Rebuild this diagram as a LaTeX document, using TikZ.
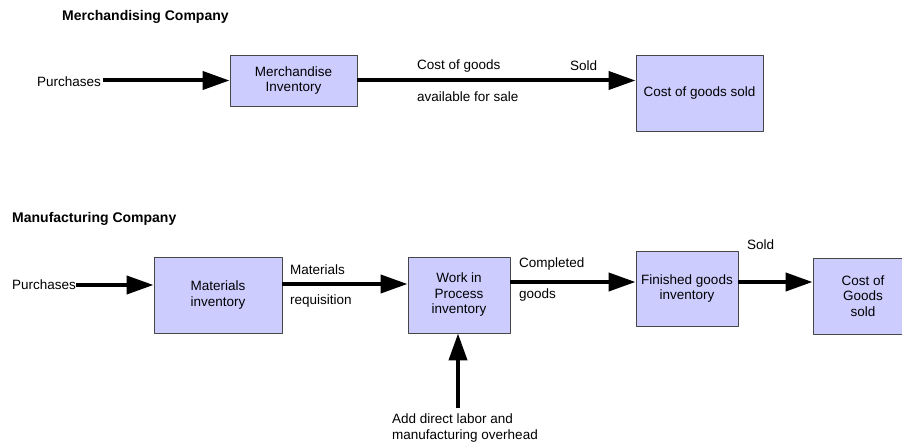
\documentclass[tikz,border=0pt]{standalone}
\usepackage{fontspec}
\setmainfont{Liberation Sans}
\usetikzlibrary{arrows.meta}
\definecolor{boxfill}{RGB}{204,204,255}
\definecolor{boxline}{RGB}{70,70,70}
\begin{document}
\begin{tikzpicture}[x=1pt,y=-1pt,line join=round,font=\fontsize{13.5}{15.5}\selectfont,
	box/.style={draw=boxline,line width=0.9pt,fill=boxfill,align=center,inner sep=0pt},
	flow/.style={line width=4pt,-{Triangle[length=27pt,width=18pt]}},
	lbl/.style={anchor=west,inner sep=0pt},
	title/.style={anchor=west,inner sep=0pt,font=\fontsize{14}{16}\selectfont\bfseries}]
	\clip (0,0) rectangle (902,446);
	% merchandising company
	\node[title] (mtitle) at (62,17) {Merchandising Company};
	\node[lbl] (mpurch) at (37,82) {Purchases};
	\node[box,minimum width=127pt,minimum height=51pt] (minv) at (293.5,80.5) {Merchandise\\Inventory};
	\node[box,minimum width=127pt,minimum height=76pt] (mcogs) at (699.5,93) {Cost of goods sold};
	\draw[flow] ([xshift=1.5pt]mpurch.east |- minv.west)--(minv.west);
	\draw[flow] (minv.east)--(minv.east -| mcogs.west);
	\node[lbl] (mcost) at (417,66) {Cost of goods};
	\node[lbl] (mavail) at (417,97) {available for sale};
	\node[lbl] (msold) at (570,66) {Sold};
	% manufacturing company
	\node[title] (ftitle) at (12,219) {Manufacturing Company};
	\node[lbl] (fpurch) at (12,285) {Purchases};
	\node[box,minimum width=128pt,minimum height=76pt] (fmat) at (218,295) {Materials\\inventory};
	\node[box,minimum width=102pt,minimum height=76pt] (fwip) at (459,295) {Work in\\Process\\inventory};
	\node[box,minimum width=102pt,minimum height=75pt] (ffg) at (687,288.5) {Finished goods\\inventory};
	\node[box,minimum width=100pt,minimum height=76pt] (fcogs) at (863,296) {Cost of\\Goods\\sold};
	\draw[flow] (fpurch.east)--(fpurch.east -| fmat.west);
	\draw[flow] ([yshift=11pt]fmat.east)--([yshift=11pt]fwip.west);
	\draw[flow] ([yshift=13pt]fwip.east)--([yshift=13pt]fwip.east -| ffg.west);
	\draw[flow] ([yshift=6.5pt]ffg.east)--([yshift=6.5pt]ffg.east -| fcogs.west);
	\node[lbl] (freq1) at (290,270) {Materials};
	\node[lbl] (freq2) at (290,301) {requisition};
	\node[lbl] (fcomp1) at (519,264) {Completed};
	\node[lbl] (fcomp2) at (519,295) {goods};
	\node[lbl] (fsold) at (747,245) {Sold};
	\node[lbl,anchor=north west,align=left] (fadd) at (392,414) {Add direct labor and\\manufacturing overhead};
	\coordinate (faddtop) at (458,408);
	\draw[flow] (faddtop)--(faddtop |- fwip.south);
\end{tikzpicture}
\end{document}
